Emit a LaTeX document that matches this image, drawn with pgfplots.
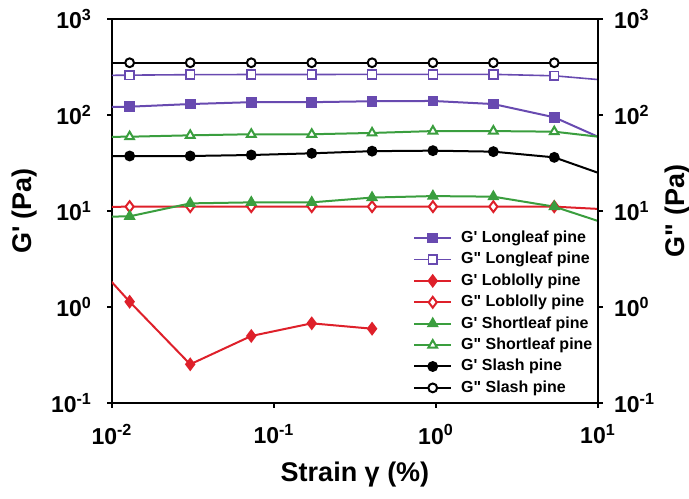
\documentclass[border=0pt]{standalone}
\usepackage{fontspec}
\setmainfont{Liberation Sans}[Ligatures=TeXOff]
\usepackage{pgfplots}
\pgfplotsset{compat=1.18}
\definecolor{cpur}{RGB}{104,74,176}
\definecolor{cred}{RGB}{222,32,42}
\definecolor{cgrn}{RGB}{58,158,62}
\newcommand{\tl}[1]{{\fontsize{11.5}{13}\selectfont\bfseries 10\textsuperscript{#1}}}
\pgfplotsset{
  legend image code/.code={
    \draw[mark repeat=2,mark phase=2] plot coordinates {(0pt,0pt)(9.25pt,0pt)(18.5pt,0pt)};
  },
}
\begin{document}
\begin{tikzpicture}
\begin{axis}[name=ax,
  scale only axis, width=243pt, height=192pt,
  xmode=log, ymode=log, xmin=0.01, xmax=10, ymin=0.1, ymax=1000,
  xminorticks=false, yminorticks=false,
  ytick={0.1,1,10,100,1000}, yticklabels={\tl{-1},\tl{0},\tl{1},\tl{2},\tl{3}},
  tick align=outside, major tick length=2.5pt,
  axis line style={line width=1.2pt},
  tick style={line width=1.2pt, black},
  yticklabel style={xshift=-4pt},
  xticklabel style={yshift=-4.5pt},
  xtick={0.01,0.1,1,10}, xticklabels={\tl{-2},\tl{-1},\tl{0},\tl{1}},
  xtick pos=left, ytick pos=left,
  xlabel={Strain γ (\%)}, ylabel={G' (Pa)},
  every axis x label/.style={at={(axis description cs:0.5,-0.185)}, anchor=center, font=\fontsize{13.5}{15}\selectfont\bfseries},
  every axis y label/.style={at={(axis description cs:-0.179,0.5)}, anchor=center, rotate=90, font=\fontsize{13.5}{15}\selectfont\bfseries},
  legend style={at={(axis description cs:0.619,0.45)}, anchor=north west,
    draw=none, fill=none, font=\fontsize{8}{9}\selectfont\bfseries,
    inner sep=0pt, row sep=3.2pt, column sep=4.5pt,
    nodes={inner sep=0pt, text height=6pt, text depth=1.5pt}},
  legend cell align=left,
]
\addplot[cpur, line width=1pt, mark=square*, mark size=2.2pt, mark options={solid, fill=cpur}]
coordinates {(0.0054,120)(0.01285,122)(0.0304,130)(0.0724,136)(0.171,136)(0.403,139)(0.957,140)(2.26,130)(5.37,94.6)(12.7,49.6)};
\addlegendentry{G' Longleaf pine}
\addplot[cpur, line width=0.8pt, mark=square*, mark size=2.2pt, mark options={solid, fill=white}]
coordinates {(0.0054,256)(0.01285,260)(0.0304,263)(0.0724,264)(0.171,264)(0.403,265)(0.957,265)(2.26,265)(5.37,256)(12.7,226)};
\addlegendentry{G" Longleaf pine}
\addplot[cred, line width=1pt, mark=diamond*, mark size=2.7pt, mark options={solid, fill=cred}]
coordinates {(0.0054,5.7)(0.01285,1.135)(0.0304,0.253)(0.0724,0.499)(0.171,0.676)(0.403,0.594)};
\addlegendentry{G' Loblolly pine}
\addplot[cred, line width=1pt, mark=diamond*, mark size=2.7pt, mark options={solid, fill=white}]
coordinates {(0.0054,10.9)(0.01285,11.1)(0.0304,11.1)(0.0724,11.1)(0.171,11.1)(0.403,11.1)(0.957,11.1)(2.26,11.1)(5.37,11.1)(12.7,10.3)};
\addlegendentry{G" Loblolly pine}
\addplot[cgrn, line width=1pt, mark=triangle*, mark size=2.5pt, mark options={solid, fill=cgrn}]
coordinates {(0.0054,8.6)(0.01285,8.8)(0.0304,12.0)(0.0724,12.3)(0.171,12.3)(0.403,13.8)(0.957,14.3)(2.26,14.1)(5.37,11.1)(12.7,6.9)};
\addlegendentry{G' Shortleaf pine}
\addplot[cgrn, line width=1pt, mark=triangle*, mark size=2.5pt, mark options={solid, fill=white}]
coordinates {(0.0054,59)(0.01285,59.4)(0.0304,61.4)(0.0724,63)(0.171,63)(0.403,65)(0.957,68)(2.26,68)(5.37,67)(12.7,56.8)};
\addlegendentry{G" Shortleaf pine}
\addplot[black, line width=1pt, mark=*, mark size=2.2pt, mark options={solid, fill=black}]
coordinates {(0.0054,37)(0.01285,37.4)(0.0304,37.4)(0.0724,38.3)(0.171,39.9)(0.403,42)(0.957,42.5)(2.26,41.5)(5.37,36.2)(12.7,21.7)};
\addlegendentry{G' Slash pine}
\addplot[black, line width=1pt, mark=*, mark size=2.2pt, mark options={solid, fill=white}]
coordinates {(0.0054,350)(0.01285,350)(0.0304,350)(0.0724,350)(0.171,350)(0.403,350)(0.957,350)(2.26,350)(5.37,350)(12.7,350)};
\addlegendentry{G" Slash pine}
\end{axis}
\begin{axis}[
  scale only axis, width=243pt, height=192pt,
  xmode=log, ymode=log, xmin=0.01, xmax=10, ymin=0.1, ymax=1000,
  yminorticks=false,
  ytick={0.1,1,10,100,1000}, yticklabels={\tl{-1},\tl{0},\tl{1},\tl{2},\tl{3}},
  tick align=outside, major tick length=2.5pt,
  axis line style={line width=1.2pt},
  tick style={line width=1.2pt, black},
  yticklabel style={xshift=2pt},
  axis x line=none, axis y line*=right,
  ylabel={G" (Pa)},
  every axis y label/.style={at={(axis description cs:1.163,0.5)}, anchor=center, rotate=90, font=\fontsize{13.5}{15}\selectfont\bfseries},
]
\addplot[draw=none, forget plot] coordinates {(1,1)};
\end{axis}
\pgfresetboundingbox
\path[use as bounding box] ([shift={(-56pt,-47.5pt)}]ax.south west) rectangle ++(344.5pt,249pt);
\end{tikzpicture}
\end{document}
